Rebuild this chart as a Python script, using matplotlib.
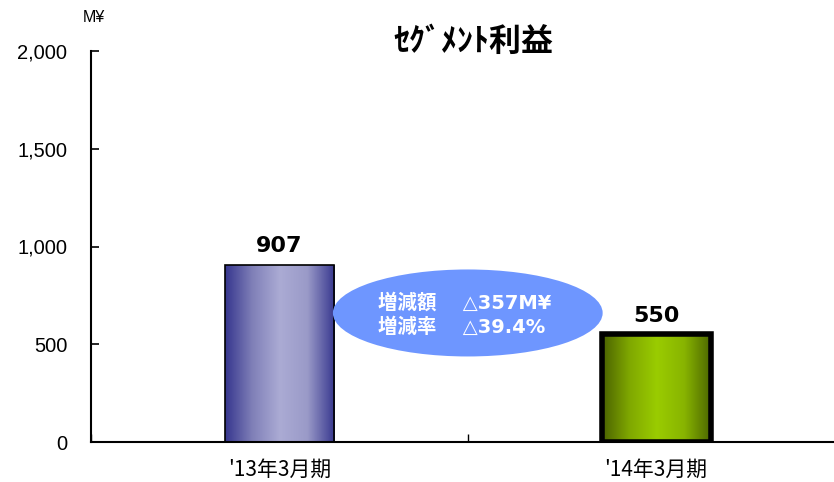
import numpy as np
import matplotlib
matplotlib.use("Agg")
import matplotlib.pyplot as plt
from matplotlib.colors import LinearSegmentedColormap
from matplotlib.patches import Ellipse

# データ
periods = ["'13年3月期", "'14年3月期"]
profits = [907, 550]
diff_lines = ["増減額　 △357M¥", "増減率　 △39.4%"]

# グラデーション（端が濃く中央が明るい）
bar_grads = [
    ["#36368e", "#8080b8", "#ababd4", "#9a9ac8", "#38388f"],
    ["#4a6200", "#80a800", "#9acc00", "#88b400", "#4a6400"],
]
edge_widths = [1.2, 4.0]

plt.rcParams['font.family'] = ['Noto Sans CJK JP', 'DejaVu Sans']

fig = plt.figure(figsize=(8.34, 4.82), dpi=100)
ax = fig.add_axes([91 / 834, 1 - 442 / 482, 1 - 91 / 834, (442 - 51) / 482])

x = np.arange(len(periods))
bw = 0.29
bars = ax.bar(x, profits, width=bw, color="none", edgecolor="black", zorder=3)

grad = np.linspace(0, 1, 256).reshape(1, -1)
for b, cols, lw in zip(bars, bar_grads, edge_widths):
    b.set_linewidth(lw)
    cmap = LinearSegmentedColormap.from_list("g", cols)
    x0 = b.get_x()
    im = ax.imshow(grad, cmap=cmap, aspect="auto",
                   extent=(x0, x0 + b.get_width(), 0, b.get_height()), zorder=2)
    im.set_clip_path(b)

for xi, v in zip(x, profits):
    ax.text(xi, v + 45, f"{v:,}", ha="center", va="bottom",
            fontsize=16, fontweight="bold", family="DejaVu Sans", zorder=5)

# 増減の吹き出し
ell = Ellipse((0.5, 660), 0.716, 445, facecolor="#6e96ff", edgecolor="none", zorder=4)
ax.add_patch(ell)
for line, yy in zip(diff_lines, [712, 585]):
    ax.text(0.262, yy, line, ha="left", va="center", color="white",
            fontsize=14, fontweight="bold",
            family=["DejaVu Sans", "Noto Sans CJK JP"], zorder=5)

ax.set_yticks([0, 500, 1000, 1500, 2000])
ax.set_yticklabels([f"{t:,}" for t in [0, 500, 1000, 1500, 2000]],
                   family="Liberation Sans", fontsize=14.5)
ax.yaxis.set_tick_params(direction="in", length=6, width=1.2, pad=17)

ax.set_xticks([-0.5, 0.5, 1.5])
ax.set_xticklabels([])
ax.xaxis.set_tick_params(direction="in", length=6, width=1)
for xi, lab in zip(x, periods):
    ax.text(xi, -140, lab, ha="center", va="center", fontsize=15)

ax.set_xlim(-0.5, 1.472)
ax.set_ylim(0, 2000)

ax.spines["top"].set_visible(False)
ax.spines["right"].set_visible(False)
ax.spines["left"].set_linewidth(1.5)
ax.spines["bottom"].set_linewidth(1.5)

fig.text(83 / 834, 1 - 17 / 482, "M¥", fontsize=11.5, va="center", ha="left",
         family="Liberation Sans")
fig.text(473 / 834, 1 - 42 / 482, "ｾｸﾞﾒﾝﾄ利益", fontsize=23, fontweight="bold",
         ha="center", va="center")

fig.savefig("out.png", dpi=100)
